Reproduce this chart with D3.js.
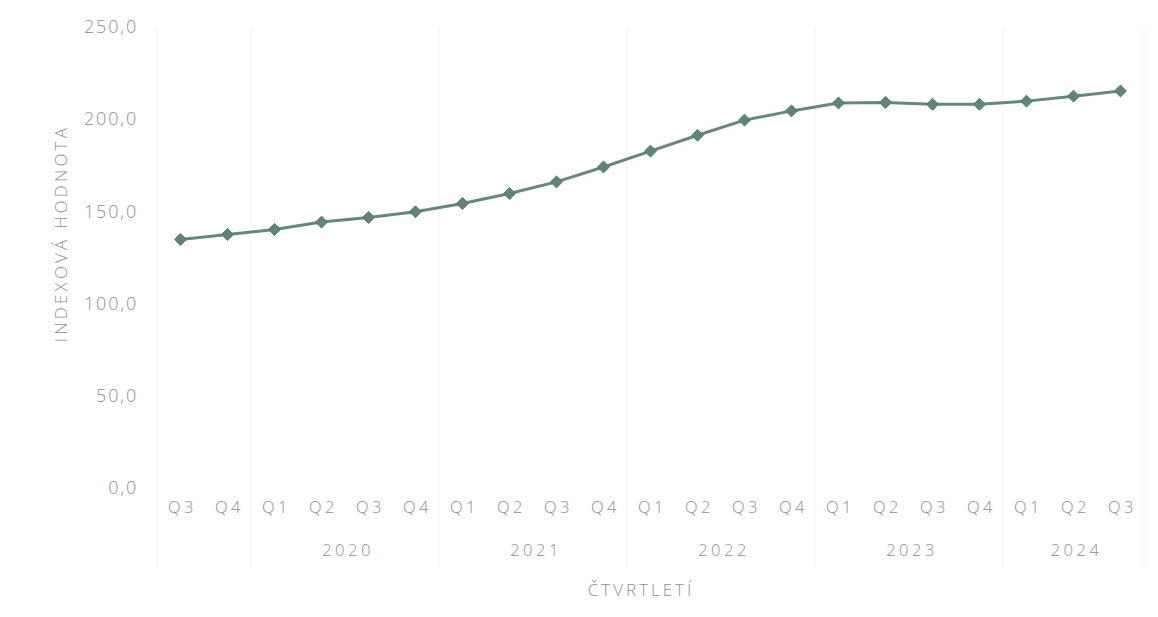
<!DOCTYPE html>
<html>
<head>
<meta charset="utf-8">
<script src="https://cdn.jsdelivr.net/npm/d3@7"></script>
<style>
  html, body { margin: 0; padding: 0; background: #ffffff; }
  svg { display: block; }
  text { font-family: "Open Sans", "Noto Sans", sans-serif; }
</style>
</head>
<body>
<svg id="chart" width="1158" height="617"></svg>
<script>
// ---- data ----
const quarters = ["Q3","Q4","Q1","Q2","Q3","Q4","Q1","Q2","Q3","Q4","Q1","Q2","Q3","Q4","Q1","Q2","Q3","Q4","Q1","Q2","Q3"];
const years    = ["2019","2019","2020","2020","2020","2020","2021","2021","2021","2021","2022","2022","2022","2022","2023","2023","2023","2023","2024","2024","2024"];
const yearLabels = ["", "2020", "2021", "2022", "2023", "2024"];
const values = [134.8,137.5,140.2,144.2,146.7,149.8,154.3,159.7,166.0,174.1,182.7,191.3,199.5,204.5,208.8,209.1,208.1,208.1,209.8,212.5,215.3];
const yTicks = [0, 50, 100, 150, 200, 250];
const yTitle = "INDEXOVÁ HODNOTA";
const xTitle = "ČTVRTLETÍ";

// ---- layout ----
const svg = d3.select("#chart");
const plot = { left: 157, right: 1144, top: 27, bottom: 488 };
const lineColor = "#66877b";
const markerColor = "#628477";
const textColor = "#8f8f8f";

const idx = d3.range(values.length);
const x = d3.scaleBand().domain(idx).range([plot.left, plot.right]).paddingInner(0).paddingOuter(0);
const cx = i => x(i) + x.bandwidth() / 2;
const y = d3.scaleLinear().domain([0, 250]).range([plot.bottom, plot.top]);

// group separators (multi-level category axis)
const groups = d3.groups(idx, i => years[i]);
const boundaries = [plot.left];
groups.forEach(([yr, arr]) => boundaries.push(x(arr[arr.length - 1]) + x.bandwidth()));
svg.append("g").selectAll("line").data(boundaries).join("line")
  .attr("x1", d => d).attr("x2", d => d)
  .attr("y1", plot.top).attr("y2", 568)
  .attr("stroke", "#f3f3f3").attr("stroke-width", 1);

// y axis (labels only)
const yAxis = d3.axisLeft(y).tickValues(yTicks).tickSize(0).tickPadding(0)
  .tickFormat(d => d3.format(".1f")(d).replace(".", ","));
const gy = svg.append("g").attr("transform", `translate(${plot.left - 19},0)`).call(yAxis);
gy.select(".domain").remove();
gy.selectAll("text").attr("fill", textColor).attr("font-size", 18).attr("font-weight", 300)
  .attr("letter-spacing", 1.8);

// x axis: quarter labels
const xAxis = d3.axisBottom(x).tickSize(0).tickPadding(0).tickFormat(i => quarters[i]);
const gx = svg.append("g").attr("transform", `translate(0,${plot.bottom + 13})`).call(xAxis);
gx.select(".domain").remove();
gx.selectAll("text").attr("fill", textColor).attr("font-size", 16.5).attr("font-weight", 300)
  .attr("letter-spacing", 3.5).attr("dy", "0.71em").attr("dx", 2);

// year labels
svg.append("g").selectAll("text").data(groups).join("text")
  .attr("x", ([yr, arr]) => (cx(arr[0]) + cx(arr[arr.length - 1])) / 2 + 3)
  .attr("y", 556)
  .attr("text-anchor", "middle")
  .attr("fill", textColor).attr("font-size", 16.5).attr("font-weight", 300)
  .attr("letter-spacing", 3.5)
  .text((d, i) => yearLabels[i]);

// axis titles
svg.append("text")
  .attr("transform", `translate(67,${(plot.top + plot.bottom) / 2 - 24}) rotate(-90)`)
  .attr("text-anchor", "middle")
  .attr("fill", textColor).attr("font-size", 17).attr("font-weight", 300)
  .attr("letter-spacing", 3.2)
  .text(yTitle);
svg.append("text")
  .attr("x", 641).attr("y", 596)
  .attr("text-anchor", "middle")
  .attr("fill", textColor).attr("font-size", 17).attr("font-weight", 300)
  .attr("letter-spacing", 3)
  .text(xTitle);

// line
const line = d3.line().x((d, i) => cx(i)).y(d => y(d));
svg.append("path").datum(values)
  .attr("d", line)
  .attr("fill", "none").attr("stroke", lineColor).attr("stroke-width", 3)
  .attr("stroke-linejoin", "round");

// diamond markers
const diamond = d3.symbol().type(d3.symbolDiamond2).size(90);
svg.append("g").selectAll("path").data(values).join("path")
  .attr("transform", (d, i) => `translate(${cx(i)},${y(d)})`)
  .attr("d", diamond)
  .attr("fill", markerColor).attr("stroke", "#56786b").attr("stroke-width", 1);
</script>
</body>
</html>
